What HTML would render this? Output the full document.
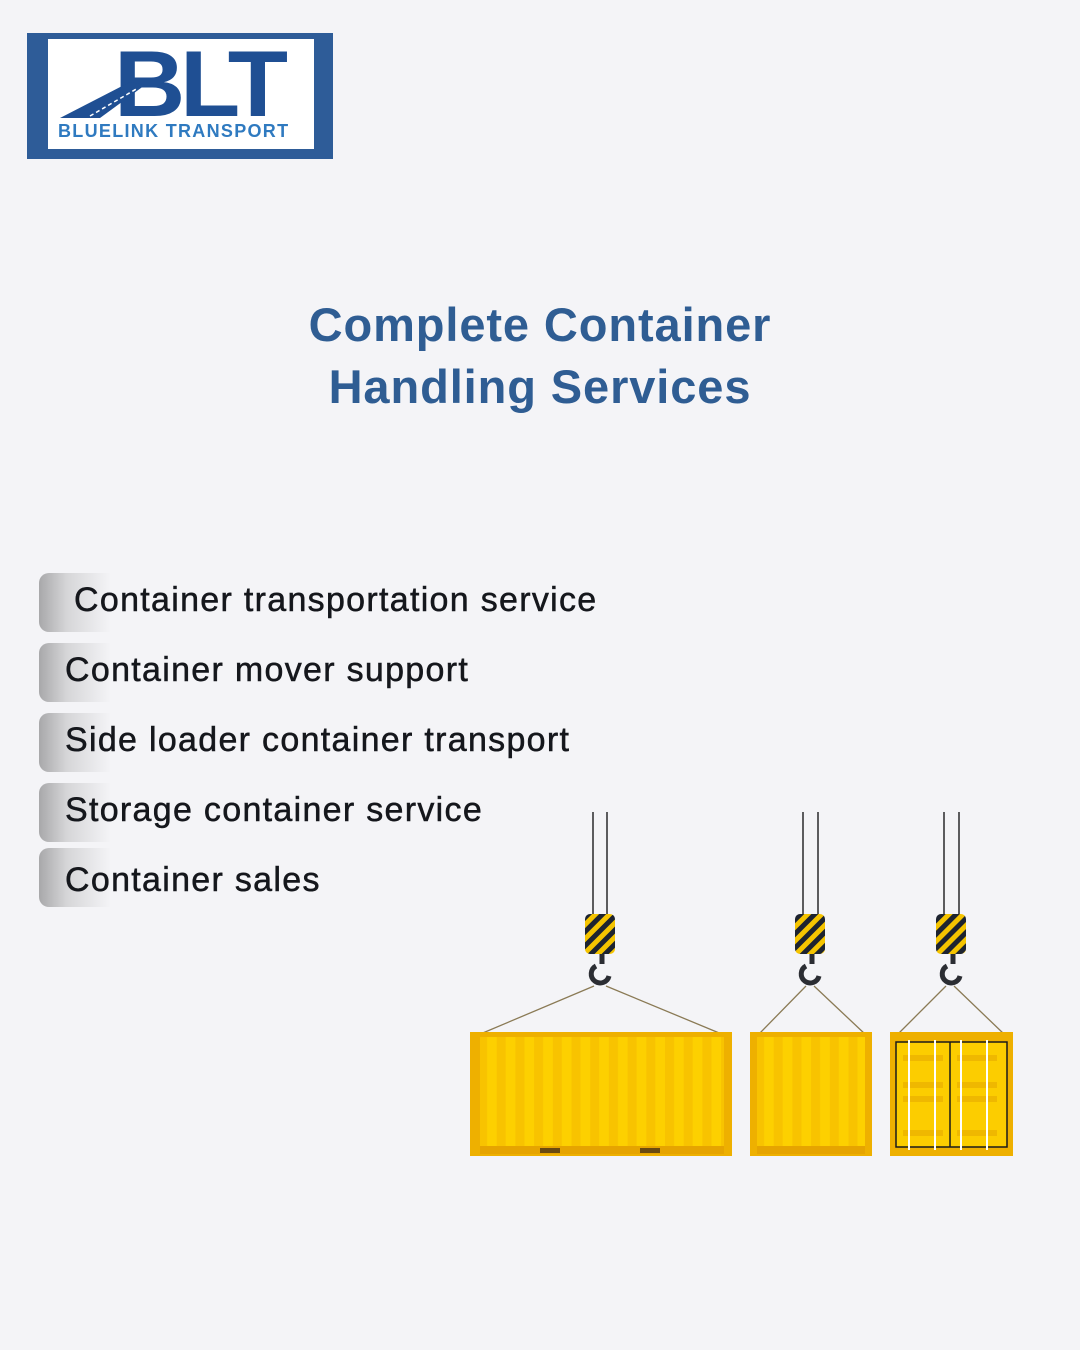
<!DOCTYPE html>
<html><head><meta charset="utf-8"><style>
body{margin:0;width:1080px;height:1350px;background:#f4f4f7;position:relative;overflow:hidden;font-family:"Liberation Sans",sans-serif}
.t{position:absolute;left:0;width:1080px;text-align:center;color:#2f5d93;font-weight:bold;font-size:47px;letter-spacing:0.9px}
.pill{position:absolute;left:39px;width:80px;border-radius:10px;background:linear-gradient(90deg,#a8a8aa 0%,#d6d6d8 35%,#f4f4f7 90%)}
.it{position:absolute;font-size:34px;letter-spacing:1.3px;color:#15171c;-webkit-text-stroke:0.5px #15171c;white-space:nowrap}
</style></head><body>
<div style="position:absolute;left:27px;top:33px;width:306px;height:126px;background:#2e5c98"></div>
<div style="position:absolute;left:48px;top:39px;width:266px;height:110px;background:#fff"></div>
<div style="position:absolute;left:114px;top:30px;font-size:94px;font-weight:bold;color:#1f4f93;letter-spacing:-5px;transform:scaleX(1.05);transform-origin:left">BLT</div>
<svg style="position:absolute;left:60px;top:80px" width="110" height="40"><polygon points="0,38 70,2 85,5 40,38" fill="#1f4f93"/><line x1="30" y1="36" x2="78" y2="8" stroke="#fff" stroke-width="1.5" stroke-dasharray="4 3"/></svg>
<div style="position:absolute;left:58px;top:121px;font-size:18px;font-weight:bold;color:#2f7ac0;letter-spacing:1.3px">BLUELINK TRANSPORT</div>
<div class="t" style="top:297px">Complete Container</div>
<div class="t" style="top:359px">Handling Services</div>
<div class="pill" style="top:573px;height:59px"></div>
<div class="pill" style="top:643px;height:59px"></div>
<div class="pill" style="top:713px;height:59px"></div>
<div class="pill" style="top:783px;height:59px"></div>
<div class="pill" style="top:848px;height:59px"></div>
<div class="it" style="left:74px;top:581px">Container transportation service</div>
<div class="it" style="left:65px;top:651px">Container mover support</div>
<div class="it" style="left:65px;top:721px">Side loader container transport</div>
<div class="it" style="left:65px;top:791px">Storage container service</div>
<div class="it" style="left:65px;top:861px">Container sales</div>
<svg style="position:absolute;left:0;top:0" width="1080" height="1350">
<defs>
<pattern id="hz" width="10" height="10" patternUnits="userSpaceOnUse" patternTransform="rotate(45)"><rect width="10" height="10" fill="#f5c400"/><rect width="5" height="10" fill="#1d2330"/></pattern>
<pattern id="rib" width="18.7" height="10" patternUnits="userSpaceOnUse" x="478"><rect width="18.7" height="10" fill="#f8c300"/><rect x="9" width="9.7" height="10" fill="#fdd000"/></pattern>
<pattern id="rib2" width="18.7" height="10" patternUnits="userSpaceOnUse" x="755"><rect width="18.7" height="10" fill="#f8c300"/><rect x="9" width="9.7" height="10" fill="#fdd000"/></pattern>
</defs>
<g stroke="#2a2a2a" stroke-width="1.5">
<line x1="593" y1="812" x2="593" y2="916"/><line x1="607" y1="812" x2="607" y2="916"/>
<line x1="803" y1="812" x2="803" y2="916"/><line x1="818" y1="812" x2="818" y2="916"/>
<line x1="944" y1="812" x2="944" y2="916"/><line x1="959" y1="812" x2="959" y2="916"/>
</g>
<g fill="url(#hz)"><rect x="585" y="914" width="30" height="40" rx="5"/><rect x="795" y="914" width="30" height="40" rx="5"/><rect x="936" y="914" width="30" height="40" rx="5"/></g>
<g fill="none" stroke="#2b2d33" stroke-width="5"><path d="M602 954v10 M596 966a9 9 0 1 0 13 10"/><path d="M812 954v10 M806 966a9 9 0 1 0 13 10"/><path d="M953 954v10 M947 966a9 9 0 1 0 13 10"/></g>
<g stroke="#8a7a55" stroke-width="1.3"><line x1="478" y1="1035" x2="594" y2="986"/><line x1="606" y1="986" x2="724" y2="1035"/><line x1="758" y1="1035" x2="806" y2="986"/><line x1="814" y1="986" x2="866" y2="1035"/><line x1="897" y1="1035" x2="946" y2="986"/><line x1="954" y1="986" x2="1005" y2="1035"/></g>
<rect x="470" y="1032" width="262" height="124" fill="#eeb000"/><rect x="480" y="1037" width="244" height="110" fill="url(#rib)"/><rect x="480" y="1146" width="244" height="8" fill="#e6a400"/><rect x="540" y="1148" width="20" height="5" fill="#6a4a10"/><rect x="640" y="1148" width="20" height="5" fill="#6a4a10"/>
<rect x="750" y="1032" width="122" height="124" fill="#eeb000"/><rect x="757" y="1037" width="108" height="110" fill="url(#rib2)"/><rect x="757" y="1146" width="108" height="8" fill="#e6a400"/>
<rect x="890" y="1032" width="123" height="124" fill="#eeb000"/><rect x="896" y="1042" width="111" height="105" fill="#fccd00" stroke="#1a1a1a" stroke-width="1.5"/><line x1="950" y1="1042" x2="950" y2="1147" stroke="#1a1a1a" stroke-width="1.5"/>
<g fill="#efb800"><rect x="903" y="1055" width="40" height="6"/><rect x="957" y="1055" width="40" height="6"/><rect x="903" y="1082" width="40" height="6"/><rect x="957" y="1082" width="40" height="6"/><rect x="903" y="1096" width="40" height="6"/><rect x="957" y="1096" width="40" height="6"/><rect x="903" y="1130" width="40" height="6"/><rect x="957" y="1130" width="40" height="6"/></g>
<g stroke="#fff" stroke-width="2"><line x1="909" y1="1040" x2="909" y2="1150"/><line x1="935" y1="1040" x2="935" y2="1150"/><line x1="961" y1="1040" x2="961" y2="1150"/><line x1="987" y1="1040" x2="987" y2="1150"/></g>
</svg>
</body></html>
